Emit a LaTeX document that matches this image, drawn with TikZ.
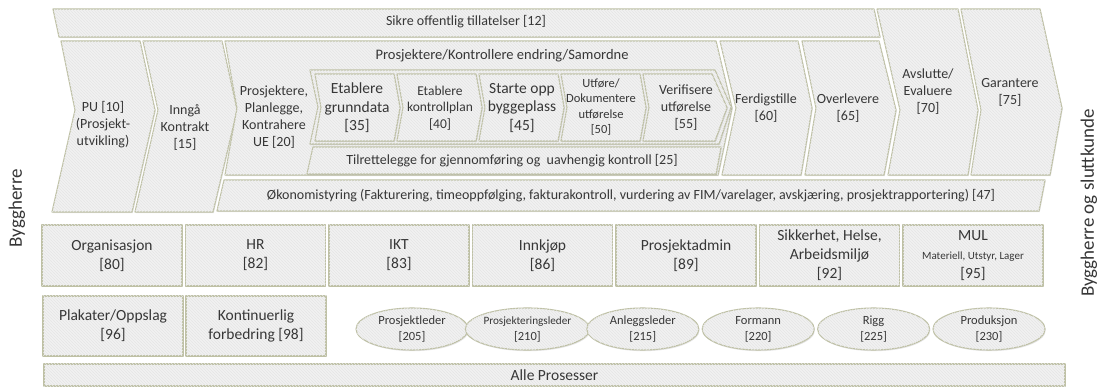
\documentclass[tikz,border=0pt]{standalone}
\usepackage{fontspec}
\setmainfont{Carlito}
\usetikzlibrary{patterns,shadows,shapes.geometric}
\definecolor{edge}{RGB}{190,192,164}
\definecolor{boxfill}{RGB}{241,241,241}
\definecolor{stripe}{RGB}{230,230,230}
\definecolor{ink}{RGB}{55,55,55}

\newcommand{\fs}[2]{\fontsize{#1}{#2}\selectfont}

\begin{document}
\begin{tikzpicture}[x=1pt,y=-1pt,
  shp/.style={draw=edge, line width=1.1pt, line join=round, fill=boxfill,
    postaction={pattern=north west lines, pattern color=stripe},
    drop shadow={shadow xshift=0.8pt, shadow yshift=-1.2pt, fill=black, opacity=0.10}},
  lbl/.style={text=ink, align=center, inner sep=0pt, font=\fs{14}{17}},
  box/.style={shp, rectangle, minimum width=140pt, minimum height=61pt, inner sep=0pt,
    text=ink, align=center, font=\fs{15.5}{19}},
  role/.style={shp, ellipse, minimum width=112pt, minimum height=42pt, inner sep=0pt,
    text=ink, align=center, font=\fs{12.5}{16}},
  side/.style={text=ink, inner sep=0pt, rotate=90, font=\fs{19}{21}}]

\fill[white] (0,0) rectangle (1098,387);
\useasboundingbox (0,0) rectangle (1098,387);

% permits strip across the top
\path[shp] (53,9) -- (874,9) -- (880,37) -- (59,37) -- cycle;
\node[lbl] (p12) at (466,22) {Sikre offentlig tillatelser [12]};

% main process chevrons
\path[shp] (61,41) -- (140,41) -- (155,110) -- (132,212) -- (52,212) -- (75,110) -- cycle;
\node[lbl] (p10) at (103,125) {PU [10]\\(Prosjekt-\\utvikling)};

\path[shp] (143,41) -- (222,41) -- (237,110) -- (213,212) -- (135,212) -- (158,110) -- cycle;
\node[lbl] (p15) at (185,127) {Inngå\\Kontrakt\\{[15]}};

\path[shp] (225,41) -- (716,41) -- (732,108) -- (718,175) -- (225,175) -- (237,108) -- cycle;
\node[lbl] (p20) at (274,117) {Prosjektere,\\Planlegge,\\Kontrahere\\UE [20]};
\node[lbl, font=\fs{14.5}{17}] (samordne) at (502,56) {Prosjektere/Kontrollere endring/Samordne};

% execution frame with its sub-steps
\path[shp] (310,70) -- (715,70) -- (731,107) -- (719,144) -- (310,144) -- (318,107) -- cycle;
\path[shp] (315,74) -- (394,74) -- (400,107.5) -- (394,141) -- (315,141) -- (321,107.5) -- cycle;
\path[shp] (397,74) -- (476,74) -- (482,107.5) -- (476,141) -- (397,141) -- (403,107.5) -- cycle;
\path[shp] (479,74) -- (558,74) -- (564,107.5) -- (558,141) -- (479,141) -- (485,107.5) -- cycle;
\path[shp] (561,74) -- (640,74) -- (646,107.5) -- (640,141) -- (561,141) -- (567,107.5) -- cycle;
\path[shp] (643,74) -- (712,74) -- (727,107.5) -- (715,141) -- (643,141) -- (649,107.5) -- cycle;
\node[lbl, font=\fs{15.5}{18.5}] (p35) at (357,108) {Etablere\\grunndata\\{[35]}};
\node[lbl, font=\fs{13.5}{16.5}] (p40) at (440,108) {Etablere\\kontrollplan\\{[40]}};
\node[lbl, font=\fs{15.5}{18.5}] (p45) at (522,108) {Starte opp\\byggeplass\\{[45]}};
\node[lbl, font=\fs{12.5}{15.5}] (p50) at (601,107) {Utføre/\\Dokumentere\\utførelse\\{[50]}};
\node[lbl, font=\fs{14}{17}] (p55) at (686,108) {Verifisere\\utførelse\\{[55]}};

\path[shp] (313,147) -- (721,147) -- (716,174) -- (307,174) -- cycle;
\node[lbl] (p25) at (512,161) {Tilrettelegge for gjennomføring og\ \ uavhengig kontroll [25]};

\path[shp] (720,41) -- (798,41) -- (812,108) -- (801,175) -- (722,175) -- (736,108) -- cycle;
\node[lbl] (p60) at (766,108) {Ferdigstille\\{[60]}};

\path[shp] (802,41) -- (879,41) -- (896,110) -- (884,175) -- (805,175) -- (816,108) -- cycle;
\node[lbl] (p65) at (848,108) {Overlevere\\{[65]}};

\path[shp] (877,9) -- (958,9) -- (978,110) -- (968,175) -- (888,175) -- (900,110) -- cycle;
\node[lbl] (p70) at (928,92) {Avslutte/\\Evaluere\\{[70]}};

\path[shp] (961,9) -- (1040,9) -- (1062,108) -- (1050,175) -- (971,175) -- (981,110) -- cycle;
\node[lbl] (p75) at (1010,92) {Garantere\\{[75]}};

% finance strip
\path[shp] (224,180) -- (1045,180) -- (1039,211) -- (217,211) -- cycle;
\node[lbl] (p47) at (631,196) {Økonomistyring (Fakturering, timeoppfølging, fakturakontroll, vurdering av FIM/varelager, avskjæring, prosjektrapportering) [47]};

% support functions
\node[box] (s80) at (112,255.5) {Organisasjon\\{[80]}};
\node[box] (s82) at (255.5,255.5) {HR\\{[82]}};
\node[box] (s83) at (399,255.5) {IKT\\{[83]}};
\node[box] (s86) at (542.5,255.5) {Innkjøp\\{[86]}};
\node[box] (s89) at (686,255.5) {Prosjektadmin\\{[89]}};
\node[box] (s92) at (829.5,255.5) {Sikkerhet, Helse,\\Arbeidsmiljø\\{[92]}};
\node[box] (s95) at (973,255.5) {MUL\\{\fs{11}{14}Materiell, Utstyr, Lager}\\{[95]}};

\node[box, minimum height=60pt] (s96) at (113,326) {Plakater/Oppslag\\{[96]}};
\node[box, minimum height=60pt] (s98) at (256,326) {Kontinuerlig\\forbedring [98]};

% roles
\node[role] (r205) at (412,329) {Prosjektleder\\{[205]}};
\node[role] (r210) at (527.4,329) {{\fs{11.2}{16}Prosjekteringsleder}\\{[210]}};
\node[role] (r215) at (642.8,329) {Anleggsleder\\{[215]}};
\node[role] (r220) at (758.2,329) {Formann\\{[220]}};
\node[role] (r225) at (873.6,329) {Rigg\\{[225]}};
\node[role] (r230) at (989,329) {Produksjon\\{[230]}};

% all processes
\node[box, minimum width=1021pt, minimum height=22pt] (all) at (554.5,375) {Alle Prosesser};

% actors on either side
\node[side] (owner) at (17,208) {Byggherre};
\node[side] (client) at (1089,203) {Byggherre og sluttkunde};
\end{tikzpicture}
\end{document}
